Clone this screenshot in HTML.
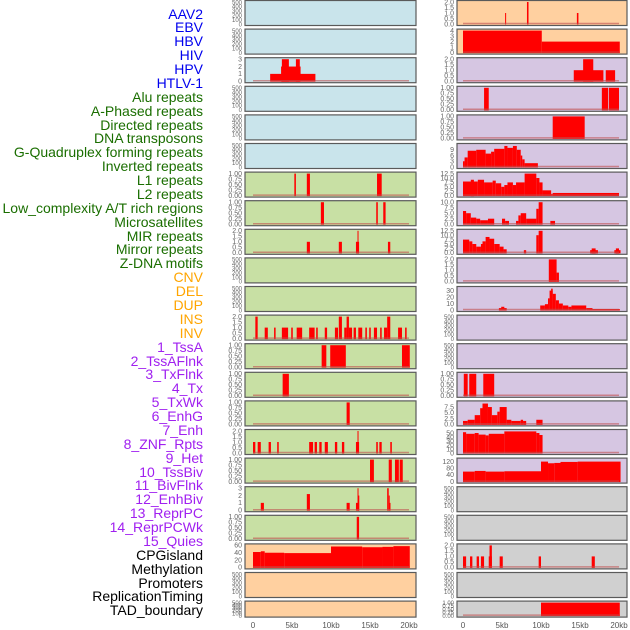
<!DOCTYPE html>
<html><head><meta charset="utf-8">
<style>
html,body{margin:0;padding:0;background:#fff;}
body{width:630px;height:630px;overflow:hidden;position:relative;font-family:"Liberation Sans",sans-serif;}
#labels div{position:absolute;right:427px;font-size:14px;line-height:14px;white-space:nowrap;}
svg{position:absolute;left:0;top:0;}
</style></head>
<body>
<div id="labels"></div>
<svg id="chart" width="630" height="630"></svg>
<script>
const trackNames=["AAV2","EBV","HBV","HIV","HPV","HTLV-1","Alu repeats","A-Phased repeats","Directed repeats","DNA transposons","G-Quadruplex forming repeats","Inverted repeats","L1 repeats","L2 repeats","Low_complexity A/T rich regions","Microsatellites","MIR repeats","Mirror repeats","Z-DNA motifs","CNV","DEL","DUP","INS","INV","1_TssA","2_TssAFlnk","3_TxFlnk","4_Tx","5_TxWk","6_EnhG","7_Enh","8_ZNF_Rpts","9_Het","10_TssBiv","11_BivFlnk","12_EnhBiv","13_ReprPC","14_ReprPCWk","15_Quies","CPGisland","Methylation","Promoters","ReplicationTiming","TAD_boundary"];
const trackColors=[].concat(Array(6).fill("#0000ee"),Array(13).fill("#1a6e00"),Array(5).fill("#ffa500"),Array(15).fill("#a020f0"),Array(5).fill("#000"));
const xTickLabels=["0","5kb","10kb","15kb","20kb"];
const xTickValues=[0,5,10,15,20];
const E=[0,100,200,300,400,500];
const T1=[0,0.25,0.5,0.75,1];
const T1L=["0.00","0.25","0.50","0.75","1.00"];
const T2=[0,0.5,1,1.5,2];
const T2L=["0.0","0.5","1.0","1.5","2.0"];
// left column data: [startKb,endKb,value]
const L2=[[2.2,8.0,1],[3.6,6.1,2],[3.7,4.6,3],[5.5,6.0,3]];
const L6=[[5.3,5.5,1],[6.9,7.3,1],[15.9,16.5,1]];
const L7=[[8.7,9.1,1],[15.8,16.0,1],[16.7,17.0,1]];
const L8=[[6.9,7.3,1],[11.0,11.4,1],[13.2,13.6,1],[13.4,13.5,2],[17.3,17.6,1]];
const L11=[[0.3,0.6,2],[1.5,1.9,1],[2.7,2.9,1],[3.7,4.5,1],[4.9,5.1,1],[5.6,6.3,1],[7.2,7.9,1],[8.1,8.3,1],[9.2,9.5,1],[10.5,10.9,1],[11.0,11.4,2],[11.7,12.0,1],[12.0,12.3,2],[12.3,12.7,1],[12.9,13.2,1],[13.5,14.0,1],[14.4,14.6,1],[14.9,15.1,1],[15.5,15.9,1],[16.3,16.5,1],[16.8,17.2,1],[17.2,17.6,2],[18.6,19.1,1],[19.5,19.7,1]];
const L12=[[8.8,9.4,1],[9.9,11.9,1],[19.1,20.1,1]];
const L13=[[3.8,4.6,1]];
const L14=[[12.0,12.4,1]];
const L15=[[0,0.3,1],[0.6,1.0,1],[2.0,2.3,1],[3.1,3.3,1],[7.2,7.7,1],[7.9,8.2,1],[8.5,8.8,1],[9.2,9.6,1],[10.5,10.8,1],[11.4,11.7,1],[13.2,13.6,1],[13.4,13.5,2],[15.8,16.0,1],[16.2,16.5,1],[17.6,17.8,1]];
const L16=[[15.0,15.5,1],[17.4,17.8,1],[18.2,18.7,1],[18.8,19.2,1]];
const L17=[[1.0,1.4,1],[6.9,7.3,2.2],[12.0,12.4,1],[13.2,13.6,1],[13.4,13.5,3],[13.5,13.6,2],[17.2,17.4,3],[17.4,17.5,2],[17.5,17.6,1]];
const L18=[[13.3,13.6,1]];
const L19=[[0,1.0,42],[1.0,1.5,44],[1.5,4,40],[4,10,39],[10,14,57],[14,16.6,55],[16.6,18,56],[18,20.1,58]];
// right column data
const R0=[[5.4,5.5,1],[8.2,8.4,2],[14.6,14.8,1]];
const R1=[[0,10.1,4],[10.1,20.1,2]];
const R2=[[14.2,18.0,1],[15.4,16.7,2],[18.3,19.5,1]];
const R3=[[2.7,3.3,1],[17.8,18.6,1],[18.7,20.0,1]];
const R4=[[11.5,15.6,1]];
const R5=[[0,0.2,3],[0.2,0.6,5],[0.6,1.7,8.5],[1.7,2.9,9],[2.9,3.6,7],[3.6,4.0,8],[4.0,5.3,9.5],[5.3,5.7,11],[5.7,6.4,10],[6.4,6.9,11],[6.9,7.4,9],[7.4,7.6,6],[7.6,7.9,4],[7.9,9.6,2]];
const R6=[[0,1.9,8],[1.0,1.4,9],[1.9,2.7,9],[2.7,3.8,7.5],[3.8,4.2,8.5],[4.2,4.9,7],[4.9,5.3,5],[5.3,5.7,6],[5.7,6.4,7.5],[6.4,6.8,6],[6.8,7.9,7.5],[7.9,9.4,12.5],[9.4,9.8,10],[9.8,10.2,7.5],[10.2,11.3,3],[11.3,11.5,1],[11.5,20.0,1.5]];
const R7=[[0,0.4,6],[0.4,1.0,5],[1.0,1.7,3],[1.7,2.2,2.5],[2.2,3.2,1.8],[3.2,4.0,2.5],[5.0,5.4,2.5],[5.4,5.9,1.5],[6.8,7.1,1.5],[7.1,7.4,4],[7.4,8.1,5],[8.1,9.4,2.5],[9.4,9.7,7],[9.7,10.2,10],[11.2,11.8,1.5]];
const R8=[[0,0.8,7.5],[0.8,1.2,6.5],[1.2,1.7,5],[1.7,2.3,3.5],[2.3,2.5,5],[2.5,2.9,6.5],[2.9,3.4,9],[3.4,4.0,8],[4.0,4.7,5],[4.7,5.2,3.5],[5.2,5.6,2],[7.8,8.1,1.5],[9.4,9.7,10],[9.7,10.2,12.5],[16.3,17.3,1.5],[16.5,17.0,2.5],[19.4,20.2,1.5],[19.6,20.0,2.5]];
const R9=[[11.0,12.0,2],[12.0,12.3,0.8]];
const R10=[[4.6,5.6,3],[4.9,5.3,5],[9.9,10.5,7],[10.5,10.9,9],[10.9,11.1,18],[11.1,11.5,30],[11.3,11.5,33],[11.5,11.9,25],[11.9,12.3,15],[12.3,12.8,10],[12.8,13.5,7],[13.5,13.9,5],[13.9,15.8,7],[15.8,16.6,3],[16.6,20.1,1.5]];
const R13=[[0.1,0.6,1],[0.8,1.7,1],[2.6,4.0,1]];
const R14=[[0,0.6,1.5],[0.6,1.5,2],[1.5,2.2,4],[2.2,2.5,7],[2.5,3.2,9],[3.2,3.7,7.5],[3.7,4.4,4],[4.4,4.7,5.5],[4.7,5.6,7.5],[5.6,6.2,2],[6.2,7.4,1.5],[7.4,7.7,2],[7.7,8.1,1.5],[9.4,10.2,2]];
const R15=[[0,0.4,52],[0.4,1.5,48],[1.5,2.0,50],[2.0,2.9,46],[2.9,3.3,44],[3.3,5.3,48],[5.3,9.4,54],[9.4,9.8,50],[9.8,10.2,45]];
const R16=[[0,1.5,60],[1.5,2.9,64],[2.9,5.3,60],[5.3,10.0,62],[10.0,10.9,120],[10.9,11.7,110],[11.7,12.5,112],[12.5,14.7,118],[14.7,20.2,120]];
const R19=[[0,0.4,1],[0.9,1.2,1],[1.75,2.05,1],[2.3,2.7,1],[3.3,3.7,1],[3.4,3.7,2],[4.7,5.1,1],[9.7,10.0,1],[16.5,16.9,1]];
const R21=[[10.0,20.1,1]];

const BLUE="#c9e4eb",GREEN="#c8e0a4",PEACH="#ffd0a0",PURP="#d6c6e2",GRAY="#d0d0d0";
const left=[
 ["aav2",BLUE,null,500,E,null],["ebv",BLUE,null,500,E,null],["hiv",BLUE,L2,3,[0,1,2,3],null],
 ["hpv",BLUE,null,500,E,null],["htlv",BLUE,null,500,E,null],["gquad",BLUE,null,500,E,null],
 ["l1",GREEN,L6,1,T1,T1L],["low-complexity",GREEN,L7,1,T1,T1L],["mir",GREEN,L8,2,T2,T2L],
 ["zdna",GREEN,null,500,E,null],["del",GREEN,null,500,E,null],["ins",GREEN,L11,2,T2,T2L],
 ["tssa",GREEN,L12,1,T1,T1L],["txflnk",GREEN,L13,1,T1,T1L],["txwk",GREEN,L14,1,T1,T1L],
 ["znf",GREEN,L15,2,T2,T2L],["tssbiv",GREEN,L16,1,T1,T1L],["enhbiv",GREEN,L17,3,[0,1,2,3],null],
 ["reprpcwk",GREEN,L18,1,T1,T1L],["cpgisland",PEACH,L19,60,[0,20,40,60],null],
 ["promoters",PEACH,null,500,E,null],["tad",PEACH,null,500,E,null]];
const right=[
 ["aav2",PEACH,R0,2,T2,T2L],["ebv",PEACH,R1,4,[0,1,2,3,4],null],["hiv",PURP,R2,2,T2,T2L],
 ["hpv",PURP,R3,1,T1,T1L],["htlv",PURP,R4,1,T1,T1L],["gquad",PURP,R5,11.5,[0,3,6,9],null],
 ["l1",PURP,R6,12.5,[0,2.5,5,7.5,10,12.5],["0.0","2.5","5.0","7.5","10.0","12.5"]],
 ["low-complexity",PURP,R7,10,[0,2.5,5,7.5,10],["0.0","2.5","5.0","7.5","10.0"]],
 ["mir",PURP,R8,12.5,[0,2.5,5,7.5,10,12.5],["0.0","2.5","5.0","7.5","10.0","12.5"]],
 ["zdna",PURP,R9,2,T2,T2L],["del",PURP,R10,34,[0,10,20,30],null],
 ["ins",PURP,null,500,E,null],["tssa",PURP,null,500,E,null],["txflnk",PURP,R13,1,T1,T1L],
 ["txwk",PURP,R14,9.5,[0,2.5,5,7.5],["0.0","2.5","5.0","7.5"]],["znf",PURP,R15,55,[0,10,20,30,40,50],null],
 ["tssbiv",PURP,R16,132,[0,40,80,120],null],["enhbiv",GRAY,null,500,E,null],
 ["reprpcwk",GRAY,null,500,E,null],["cpgisland",GRAY,R19,2,T2,T2L],
 ["promoters",GRAY,null,500,E,null],["tad",GRAY,R21,1,T1,T1L]];

const NS="http://www.w3.org/2000/svg";
const svg=document.getElementById("chart");
function mk(tag,attrs,parent){const e=document.createElementNS(NS,tag);for(const k in attrs)e.setAttribute(k,attrs[k]);(parent||svg).appendChild(e);return e;}

const lab=document.getElementById("labels");
trackNames.forEach((n,i)=>{
 const d=document.createElement("div");
 
 
 d.textContent=n;d.style.color=trackColors[i];
 d.style.top=(14+i*13.88-7.5)+"px";
 lab.appendChild(d);
});

function drawCol(cfg,px,pw,x0,col){
 const xs=kb=>x0+kb*(156/20);
 cfg.forEach((p,i)=>{
  const top=0.5+i*28.6, h=(i===21?16:25);
  const g=mk("g",{});
  
  
  mk("rect",{x:px,y:top,width:pw,height:h,fill:p[1],stroke:"#5a5a5a","stroke-width":1.2},g);
  const bot=top+h-1.5, ih=h-3;
  const ys=v=>bot-v/p[3]*ih;
  p[4].forEach((t,j)=>{
   const tx=mk("text",{x:px-3,y:ys(t)+2.3,"font-size":(p[4]===E||i===21?6:7),fill:"#666","text-anchor":"end"},g);
   
   
   tx.textContent=p[5]?p[5][j]:String(t);
  });
  if(p[2]){
   p[2].forEach(s=>{
    const r=mk("rect",{x:xs(s[0]),y:ys(s[2]),width:Math.max(1,xs(s[1])-xs(s[0])),height:bot-ys(s[2])+0.5,fill:"#ff0000"},g);
    
    
   });
   mk("line",{x1:xs(0),x2:xs(20),y1:bot-0.5,y2:bot-0.5,stroke:"#c05050","stroke-opacity":0.6,"stroke-width":1.5},g);
  }
 });
 xTickValues.forEach((v,j)=>{
  const t=mk("text",{x:xs(v),y:628,"font-size":8,fill:"#555","text-anchor":"middle"});
  
  
  t.textContent=xTickLabels[j];
 });
}
drawCol(left,245,171,253,"left");
drawCol(right,457,170,463,"right");
</script>
</body></html>
